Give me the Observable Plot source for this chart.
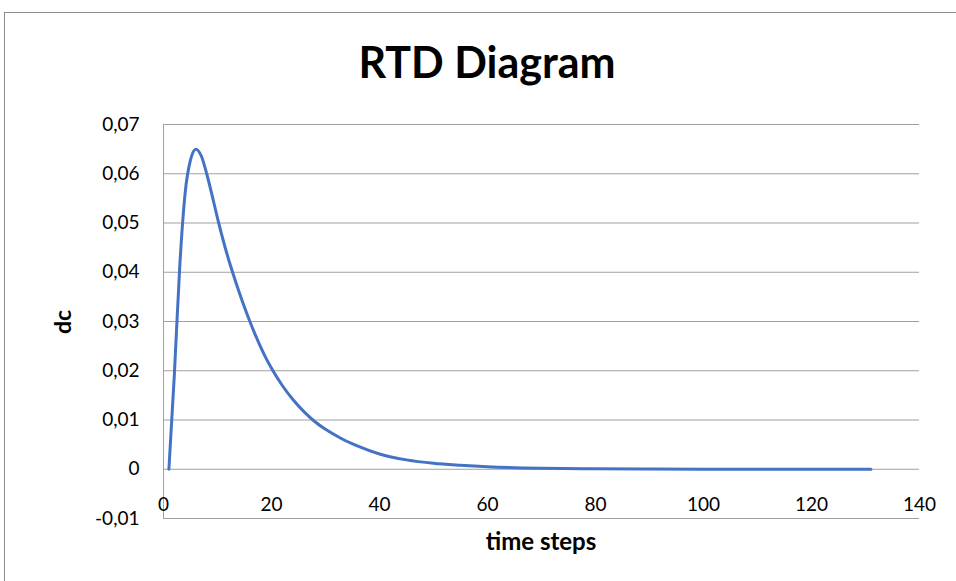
<!DOCTYPE html>
<html>
<head>
<meta charset="utf-8">
<script src="https://cdn.jsdelivr.net/npm/d3@7"></script>
<script src="https://cdn.jsdelivr.net/npm/@observablehq/plot@0.6"></script>
<style>
  html, body { margin: 0; padding: 0; background: #fff; overflow: hidden; }
  #chart {
    position: relative; width: 956px; height: 581px;
    font-family: Lato, "Open Sans", sans-serif; color: #000;
  }
  #frame {
    position: absolute; left: 4px; top: 12px; width: 1000px; height: 700px;
    border: 1px solid #8c8c8c; box-sizing: border-box;
  }
  #title {
    position: absolute; left: 0; top: 37px; width: 974px; text-align: center;
    font-weight: 700; font-size: 43px; line-height: 50px;
  }
  #plot { position: absolute; left: 0; top: 100px; }
  #xlabel {
    position: absolute; left: 163px; width: 756px; top: 527px; text-align: center;
    font-weight: 700; font-size: 24px; line-height: 28px;
  }
  #ylabel {
    position: absolute; left: 62px; top: 322px; transform: translate(-50%, -50%) rotate(-90deg);
    font-weight: 700; font-size: 23px; line-height: 26px; white-space: nowrap;
  }
</style>
</head>
<body>
<div id="chart">
  <div id="frame"></div>
  <div id="title">RTD Diagram</div>
  <div id="plot"></div>
  <div id="xlabel">time steps</div>
  <div id="ylabel">dc</div>
</div>
<script>
// Residence time distribution: concentration change per time step
const timeSteps = [1, 2, 3, 4, 5, 6, 7, 8, 9, 10, 11, 12, 13, 14, 15, 16, 17, 18, 19, 20, 22, 24, 26, 28, 30, 33, 36, 40, 45, 50, 55, 60, 70, 80, 90, 100, 110, 120, 131];
const dc = [0, 0.019, 0.041, 0.056, 0.0628, 0.065, 0.0636, 0.0600, 0.0556, 0.0510, 0.0467, 0.0428, 0.0393, 0.0360, 0.0329, 0.0300, 0.0273, 0.0248, 0.0225, 0.0205, 0.0170, 0.0141, 0.0117, 0.0097, 0.0081, 0.0062, 0.0047, 0.0031, 0.0019, 0.0012, 0.0008, 0.0005, 0.0002, 0.0001, 0.00005, 0.00002, 0.00001, 0, 0];

const xTicks = [0, 20, 40, 60, 80, 100, 120, 140];
const yTicks = [-0.01, 0, 0.01, 0.02, 0.03, 0.04, 0.05, 0.06, 0.07];

const points = timeSteps.map((t, i) => ({t, v: dc[i]}));
const gridColor = "#a0a0a0";
const fmt = d => d === 0 ? "0" : d.toFixed(2).replace(".", ",");

const chart = Plot.plot({
  width: 956,
  height: 481,
  marginLeft: 163,
  marginRight: 37,
  marginTop: 24,
  marginBottom: 63,
  style: {fontFamily: "Lato, 'Open Sans', sans-serif", fontSize: "19px", color: "#000", background: "transparent"},
  x: {domain: [0, 140]},
  y: {domain: [-0.01, 0.07]},
  marks: [
    Plot.gridY(yTicks, {stroke: gridColor, strokeOpacity: 1, strokeWidth: 1}),
    Plot.ruleX([0], {stroke: gridColor, strokeWidth: 1}),
    Plot.axisY(yTicks, {tickSize: 0, tickPadding: 24, tickFormat: fmt, label: null, fontSize: 19}),
    Plot.axisX(xTicks, {tickSize: 0, tickPadding: 0, dy: -21, label: null, fontSize: 19}),
    Plot.line(points, {x: "t", y: "v", stroke: "#4472C4", strokeWidth: 3, curve: "monotone-x"})
  ]
});
document.getElementById("plot").appendChild(chart);
</script>
</body>
</html>
